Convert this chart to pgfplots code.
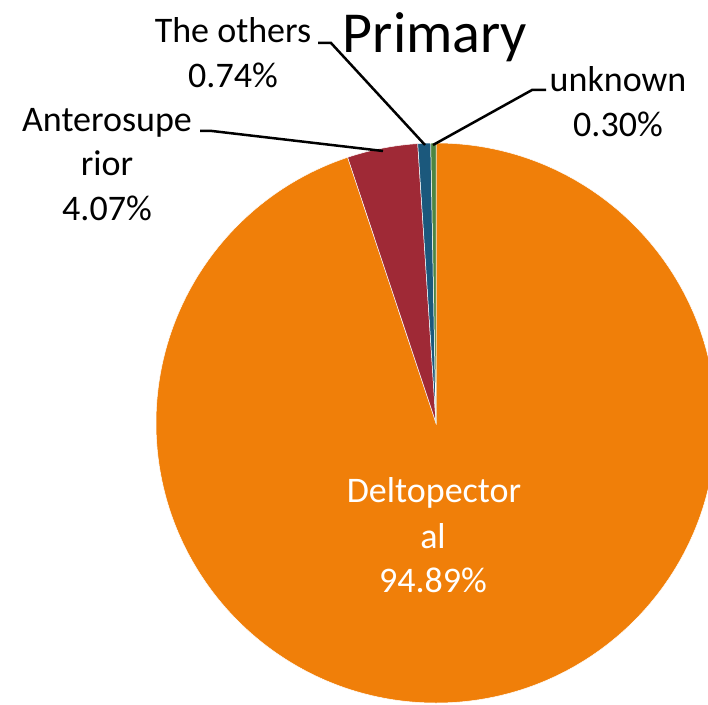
\documentclass[border=0pt]{standalone}
\usepackage{pgfplots}
\usepackage{pgfplotstable}
\pgfplotsset{compat=1.18}
\usepackage{fontspec}
\setmainfont{Carlito}
\definecolor{cOrange}{HTML}{F07F09}
\definecolor{cRed}{HTML}{9F2936}
\definecolor{cBlue}{HTML}{1B587C}
\definecolor{cGreen}{HTML}{4E8542}
\pgfplotstableread[col sep=comma]{
name,value,color
Deltopectoral,94.89,cOrange
Anterosuperior,4.07,cRed
The others,0.74,cBlue
unknown,0.30,cGreen
}\piedata
\tikzset{lbl/.style={font=\fontsize{36}{43}\selectfont, inner sep=0pt, anchor=base}}
\begin{document}
\begin{tikzpicture}
\begin{axis}[
  width=708pt, height=704pt, scale only axis,
  xmin=0, xmax=708, ymin=0, ymax=704,
  axis lines=none, clip=true,
]
\pgfplotstablegetrowsof{\piedata}
\pgfmathtruncatemacro\nrows{\pgfplotsretval-1}
\gdef\cumul{0}
\pgfplotsforeachungrouped \i in {0,...,\nrows}{%
  \pgfplotstablegetelem{\i}{value}\of\piedata \let\v\pgfplotsretval
  \pgfplotstablegetelem{\i}{color}\of\piedata \let\c\pgfplotsretval
  \pgfmathsetmacro\a{90-3.6*\cumul}%
  \pgfmathsetmacro\b{90-3.6*(\cumul+\v)}%
  \edef\temp{\noexpand\fill[\c, draw=white, line width=0.5pt] (axis cs:436,281) -- ++(\a:280pt) arc[start angle=\a, end angle=\b, radius=280pt] -- cycle;}%
  \temp
  \pgfmathsetmacro\cumulnew{\cumul+\v}%
  \xdef\cumul{\cumulnew}%
}
% leader lines
\draw[line width=2.5pt] (axis cs:318,661) -- (axis cs:331,661) -- (axis cs:425,559);
\draw[line width=2.5pt] (axis cs:433,559) -- (axis cs:532,614) -- (axis cs:546,614);
\draw[line width=2.5pt] (axis cs:200,573) -- (axis cs:212,573) -- (axis cs:383,553);
% labels
\node[lbl, font=\fontsize{58}{60}\selectfont] at (axis cs:435,651) {Primary};
\node[lbl] at (axis cs:233,661) {The others};
\node[lbl] at (axis cs:233,616) {0.74\%};
\node[lbl] at (axis cs:618,612) {unknown};
\node[lbl] at (axis cs:618,567) {0.30\%};
\node[lbl] at (axis cs:107,572) {Anterosupe};
\node[lbl] at (axis cs:107,528) {rior};
\node[lbl] at (axis cs:107,483) {4.07\%};
\node[lbl, text=white] at (axis cs:434,202) {Deltopector};
\node[lbl, text=white] at (axis cs:433,156) {al};
\node[lbl, text=white] at (axis cs:433,112) {94.89\%};
\end{axis}
\pgfresetboundingbox
\useasboundingbox (0,0) rectangle (708pt,704pt);
\end{tikzpicture}
\end{document}
